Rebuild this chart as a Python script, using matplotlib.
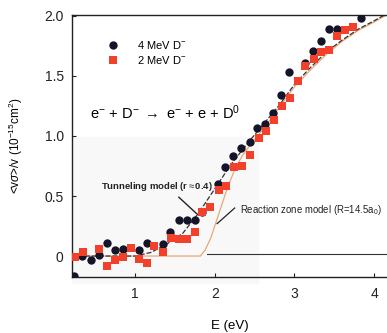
import numpy as np
import matplotlib
matplotlib.use('Agg')
import matplotlib.pyplot as plt
from matplotlib.patches import Rectangle

plt.rcParams['font.family'] = ['Liberation Sans', 'DejaVu Sans']
plt.rcParams['mathtext.fontset'] = 'custom'
plt.rcParams['mathtext.rm'] = 'Liberation Sans'
plt.rcParams['mathtext.it'] = 'Liberation Sans:italic'

# 4 MeV D- data (black circles)
E_4mev = [0.24, 0.34, 0.45, 0.55, 0.65, 0.75, 0.85, 1.05, 1.15, 1.35, 1.44,
          1.55, 1.65, 1.75, 1.84, 2.04, 2.13, 2.23, 2.33, 2.44, 2.53, 2.63,
          2.73, 2.83, 2.93, 3.13, 3.23, 3.33, 3.43, 3.53, 3.84]
s_4mev = [-0.17, 0.00, -0.03, 0.01, 0.11, 0.05, 0.055, 0.05, 0.11, 0.10, 0.20,
          0.30, 0.30, 0.30, 0.37, 0.60, 0.74, 0.83, 0.90, 0.95, 1.07, 1.10,
          1.19, 1.34, 1.53, 1.61, 1.71, 1.79, 1.89, 1.89, 1.985]

# 2 MeV D- data (red squares)
E_2mev = [0.25, 0.35, 0.55, 0.65, 0.75, 0.85, 0.95, 1.05, 1.15, 1.24, 1.35,
          1.45, 1.55, 1.65, 1.75, 1.84, 1.94, 2.05, 2.14, 2.24, 2.34, 2.44,
          2.55, 2.64, 2.74, 2.84, 2.94, 3.04, 3.13, 3.24, 3.33, 3.43, 3.53,
          3.63, 3.73]
s_2mev = [-0.01, 0.03, 0.055, -0.08, -0.03, -0.01, 0.07, -0.025, -0.055, 0.085, 0.03,
          0.15, 0.14, 0.14, 0.20, 0.37, 0.41, 0.55, 0.58, 0.74, 0.75, 0.84,
          0.98, 1.04, 1.13, 1.25, 1.32, 1.46, 1.58, 1.64, 1.70, 1.72, 1.83,
          1.88, 1.905]

# model curves
E_tun = [0.2, 1.0, 1.2, 1.4, 1.6, 1.8, 2.0, 2.2, 2.4, 2.6, 2.8, 3.0, 3.2, 3.4, 3.6, 3.8, 4.0, 4.16]
s_tun = [0.0, 0.0, 0.03, 0.10, 0.19, 0.36, 0.56, 0.76, 0.93, 1.09, 1.25, 1.43, 1.57, 1.70, 1.80, 1.89, 1.96, 2.02]
E_rz = [0.2, 1.82, 1.88, 1.95, 2.05, 2.15, 2.25, 2.35, 2.45, 2.6, 2.8, 3.0, 3.2, 3.4, 3.6, 3.8, 4.0, 4.16]
s_rz = [0.0, 0.0, 0.05, 0.15, 0.35, 0.55, 0.72, 0.84, 0.93, 1.05, 1.23, 1.41, 1.55, 1.68, 1.79, 1.88, 1.95, 2.01]

fig = plt.figure(figsize=(3.87, 3.33), dpi=100)
ax = fig.add_axes([0.186, 0.168, 0.814, 0.787])
# faint scan shading
ax.add_patch(Rectangle((0.186, 0.15), 0.48, 0.44, transform=fig.transFigure,
                       color='#f8f8f8', zorder=0, clip_on=False))

ax.plot(E_rz, s_rz, color='#e8a878', lw=0.9, zorder=2)
ax.plot(E_tun, s_tun, color='#333333', lw=0.9, ls=(0, (4, 1.5)), zorder=2)
ax.plot([1.9, 4.2], [0.015, 0.015], color='#333333', lw=0.8, zorder=2)

ax.plot(E_4mev, s_4mev, 'o', color='#15152a', ms=6, mew=0, zorder=3)
ax.plot(E_2mev, s_2mev, 's', color='#f2402a', ms=5.5, mew=0, zorder=4)

ax.set_xlim(0.21, 4.16)
ax.set_ylim(-0.175, 2.008)
ax.set_xticks([1, 2, 3, 4])
ax.set_yticks([0, 0.5, 1.0, 1.5, 2.0])
ax.set_yticklabels(['0', '0.5', '1.0', '1.5', '2.0'])
ax.tick_params(direction='in', length=3, labelsize=10, pad=7, colors='#222222')
ax.tick_params(axis='y', pad=6)
ax.spines['right'].set_visible(False)
for s in ['left', 'bottom', 'top']:
    ax.spines[s].set_color('#222222')
    ax.spines[s].set_linewidth(1.0)

ax.set_xlabel('E (eV)', fontsize=9.5, labelpad=14)
ax.set_ylabel(r'<v$\sigma$>/v (10$^{-15}$cm$^{2}$)', fontsize=8.5, labelpad=14)

# legend
ax.plot([0.72], [1.76], 'o', color='#15152a', ms=6, mew=0)
ax.plot([0.72], [1.635], 's', color='#f2402a', ms=5.5, mew=0)
ax.text(1.02, 1.76, r'4 MeV D$^{-}$', fontsize=8, va='center')
ax.text(1.02, 1.635, r'2 MeV D$^{-}$', fontsize=8, va='center')

ax.text(0.44, 1.19, r'e$^{-}$ + D$^{-}$ $\rightarrow$ e$^{-}$ + e + D$^{0}$', fontsize=10.5, va='center')

ax.text(0.58, 0.58, r'Tunneling model (r$\approx$0.4)', fontsize=6.8, fontweight='bold', va='center',
        color='#222222')
ax.plot([1.55, 1.77], [0.49, 0.355], color='#222222', lw=1.0)
ax.text(2.32, 0.38, r'Reaction zone model (R=14.5a$_0$)', fontsize=6.9, va='center', color='#222222')
ax.plot([2.25, 2.03], [0.40, 0.27], color='#222222', lw=0.9)

fig.savefig('out.png', dpi=100)
